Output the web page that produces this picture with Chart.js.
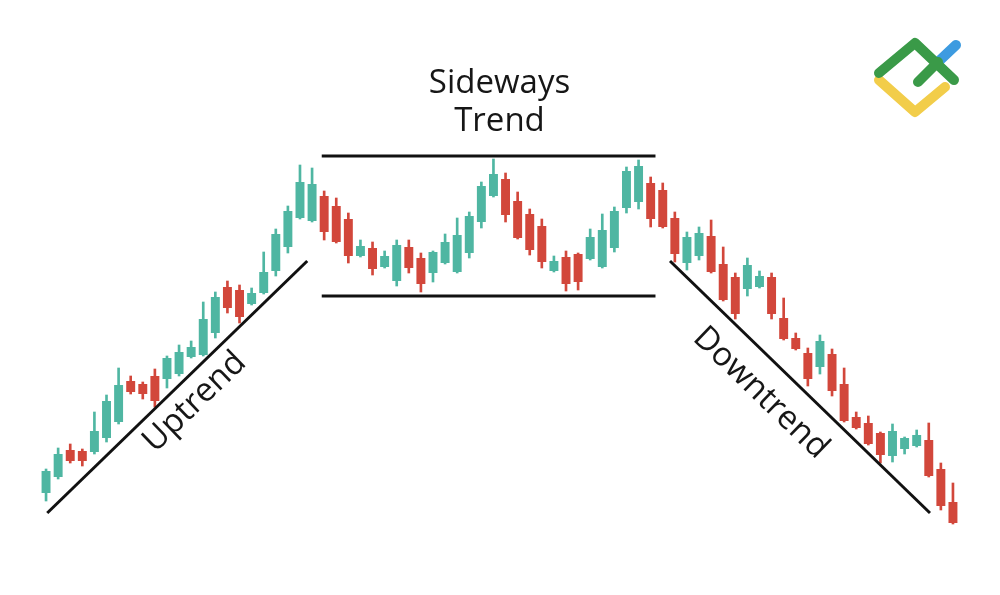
<!DOCTYPE html>
<html>
<head>
<meta charset="utf-8">
<script src="https://cdn.jsdelivr.net/npm/chart.js@4.4.1/dist/chart.umd.min.js"></script>
<style>
  html, body { margin: 0; padding: 0; background: #fff; }
  #wrap { width: 1000px; height: 595px; position: relative; }
</style>
</head>
<body>
<div id="wrap"><canvas id="trendChart"></canvas></div>
<script>
// Candle data (price units)
const opens  = [107,123,150,149,148,162,178,219,216,224,221,226,243,245,267,313,310,296,307,329,353,382,379,404,394,381,344,352,333,319,353,342,327,337,328,347,378,404,421,399,386,374,329,343,346,341,333,352,392,398,417,410,382,337,344,364,336,323,311,313,323,282,262,247,233,246,216,183,177,167,144,151,154,160,131,98];
const closes = [129,146,139,139,169,199,215,208,206,199,242,248,253,281,303,292,283,307,328,366,389,418,416,368,358,344,354,331,344,355,332,316,348,358,365,384,414,426,385,362,350,338,339,316,318,363,370,389,429,434,381,373,346,363,367,328,300,286,335,324,286,261,251,221,259,209,179,172,156,145,169,162,165,124,94,77];
const highs  = [131,152,156,151,188,205,232,224,218,231,244,255,259,298,308,319,315,312,348,371,394,435,432,409,402,387,360,358,349,360,360,347,349,366,382,388,418,441,427,408,391,381,344,349,347,371,386,393,433,440,423,417,388,368,373,380,353,327,342,329,327,302,267,252,265,251,232,188,184,168,176,163,170,177,137,117];
const lows   = [99,121,137,134,146,158,176,206,201,193,212,224,242,244,262,287,277,295,306,324,347,381,378,360,357,337,343,325,332,314,327,308,318,336,327,342,372,403,378,361,345,332,328,309,310,340,332,348,387,391,373,372,338,330,340,327,299,281,304,312,281,260,250,214,226,204,178,171,155,137,138,146,153,123,90,76];
const labels = opens.map((_, i) => i + 1);

// Trend lines, in candle index / price units
const upLineX = [0.1, 21.6],   upLineY = [87, 339];
const topLineX = [22.8, 50.4], topLineY = [444, 444];
const botLineX = [22.8, 50.4], botLineY = [304, 304];
const downLineX = [51.6, 73.1], downLineY = [339, 87];

const GREEN = '#4fb6a2';
const RED = '#d2473b';
const candleColors = opens.map((o, i) => closes[i] >= o ? GREEN : RED);

function linePoints(xs, ys) {
    return xs.map((x, i) => ({ x: x, y: ys[i] }));
}

function lineDataset(xs, ys) {
    return {
        type: 'line',
        xAxisID: 'xl',
        data: linePoints(xs, ys),
        borderColor: '#111',
        borderWidth: 3,
        pointRadius: 0,
        fill: false,
        order: 0
    };
}

// Texts and logo
const labelPlugin = {
    id: 'trendLabels',
    afterDraw(chart) {
        const ctx = chart.ctx;
        const xl = chart.scales.xl;
        const y = chart.scales.y;
        ctx.save();
        ctx.fillStyle = '#161616';
        ctx.font = '33px "Open Sans"';
        ctx.textAlign = 'center';
        ctx.textBaseline = 'alphabetic';
        ctx.fillText('Sideways', xl.getPixelForValue(37.5), y.getPixelForValue(507));
        ctx.fillText('Trend', xl.getPixelForValue(37.5), y.getPixelForValue(469));

        ctx.textBaseline = 'middle';
        ctx.save();
        ctx.translate(xl.getPixelForValue(12.3), y.getPixelForValue(198));
        ctx.rotate(-44 * Math.PI / 180);
        ctx.fillText('Uptrend', 0, 0);
        ctx.restore();

        ctx.save();
        ctx.translate(xl.getPixelForValue(59.1), y.getPixelForValue(207));
        ctx.rotate(44 * Math.PI / 180);
        ctx.fillText('Downtrend', 0, 0);
        ctx.restore();

        // logo
        ctx.lineCap = 'round';
        ctx.lineJoin = 'round';
        ctx.lineWidth = 10;
        ctx.strokeStyle = '#f2cd4a';
        ctx.beginPath();
        ctx.moveTo(879, 80); ctx.lineTo(915, 112); ctx.lineTo(945, 87);
        ctx.stroke();
        ctx.strokeStyle = '#3d9be0';
        ctx.beginPath();
        ctx.moveTo(938, 62); ctx.lineTo(956, 45);
        ctx.stroke();
        ctx.strokeStyle = '#3a9a48';
        ctx.beginPath();
        ctx.moveTo(879, 73); ctx.lineTo(915, 43); ctx.lineTo(954, 80);
        ctx.stroke();
        ctx.beginPath();
        ctx.moveTo(918, 82); ctx.lineTo(938, 62);
        ctx.stroke();
        ctx.restore();
    }
};

new Chart(document.getElementById('trendChart'), {
    data: {
        labels: labels,
        datasets: [
            {
                type: 'bar',
                data: opens.map((o, i) => [o, closes[i]]),
                backgroundColor: candleColors,
                barPercentage: 1,
                categoryPercentage: 0.74,
                grouped: false,
                order: 1
            },
            {
                type: 'bar',
                data: lows.map((l, i) => [l, highs[i]]),
                backgroundColor: candleColors,
                barThickness: 2,
                grouped: false,
                order: 2
            },
            lineDataset(upLineX, upLineY),
            lineDataset(topLineX, topLineY),
            lineDataset(botLineX, botLineY),
            lineDataset(downLineX, downLineY)
        ]
    },
    options: {
        responsive: true,
        maintainAspectRatio: false,
        animation: false,
        layout: { padding: { left: 40, right: 41, top: 0, bottom: 0 } },
        scales: {
            x: { type: 'category', display: false, offset: true },
            xl: { type: 'linear', display: false, min: -0.5, max: 75.5 },
            y: { display: false, min: 5, max: 600 }
        },
        plugins: {
            legend: { display: false },
            tooltip: { enabled: false }
        }
    },
    plugins: [labelPlugin]
});
</script>
</body>
</html>
